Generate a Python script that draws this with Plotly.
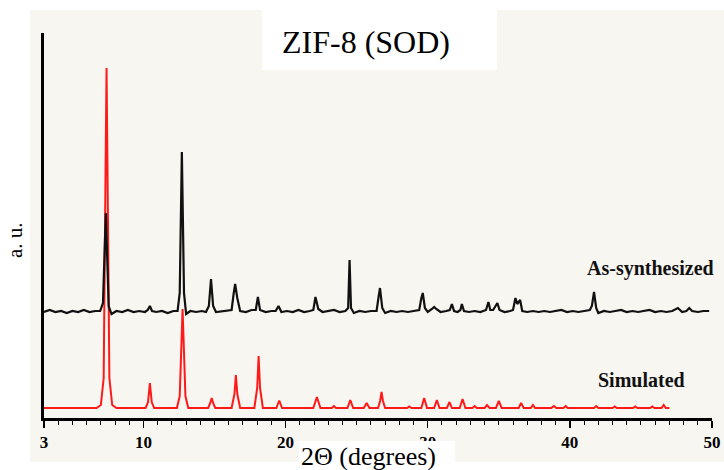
import plotly.graph_objects as go

# ---- data (y in arbitrary units) ----
asyn_x = [3.0, 3.4, 3.8, 4.2, 4.6, 5.0, 5.4, 5.8, 6.2, 6.6, 6.95, 7.15, 7.35, 7.55, 7.75,
          8.1, 8.5, 8.9, 9.3, 9.7, 10.1, 10.3, 10.45, 10.6, 10.9, 11.3, 11.7, 12.1, 12.4,
          12.55, 12.7, 12.85, 13.0, 13.3, 13.7, 14.1, 14.4, 14.6, 14.75, 14.9, 15.1, 15.5,
          15.9, 16.2, 16.35, 16.45, 16.6, 16.8, 17.2, 17.6, 17.9, 18.05, 18.2, 18.6, 19.0,
          19.3, 19.5, 19.7, 20.1, 20.5, 20.9, 21.3, 21.7, 21.95, 22.1, 22.3, 22.6, 23.0,
          23.4, 23.8, 24.2, 24.4, 24.5, 24.6, 24.8, 25.2, 25.6, 26.0, 26.4, 26.55, 26.64,
          26.8, 27.0, 27.4, 27.8, 28.2, 28.6, 29.0, 29.4, 29.55, 29.65, 29.8, 30.0, 30.3,
          30.45, 30.6, 30.9, 31.3, 31.55, 31.7, 31.85, 32.1, 32.3, 32.4, 32.55, 32.9, 33.3,
          33.7, 34.1, 34.27, 34.4, 34.6, 34.9, 35.05, 35.4, 35.8, 36.0, 36.17, 36.3, 36.5,
          36.65, 37.0, 37.4, 37.8, 38.2, 38.6, 39.0, 39.4, 39.8, 40.2, 40.6, 41.0, 41.4,
          41.55, 41.7, 41.85, 42.0, 42.4, 42.8, 43.2, 43.6, 44.0, 44.4, 44.8, 45.2, 45.6,
          46.0, 46.4, 46.8, 47.2, 47.6, 47.9, 48.2, 48.4, 48.6, 49.0, 49.4, 49.8]
asyn_y = [106, 108, 106, 107, 105, 107, 106, 108, 106, 107, 107, 115, 205, 112, 104,
          107, 106, 108, 106, 107, 106, 108, 112, 107, 106, 107, 105, 107, 107,
          125, 266, 125, 104, 107, 106, 107, 106, 112, 139, 112, 106, 107,
          108, 108, 125, 134, 120, 107, 106, 108, 108, 121, 108, 106, 107,
          107, 112, 106, 107, 106, 108, 106, 107, 108, 121, 109, 106, 107,
          108, 106, 107, 110, 158, 110, 105, 107, 106, 107, 107, 122, 130,
          110, 105, 107, 106, 107, 106, 107, 108, 120, 125, 110, 106, 109,
          111, 109, 106, 107, 108, 114, 107, 106, 108, 114, 107, 106, 107,
          106, 108, 116, 108, 108, 115, 108, 106, 107, 108, 120, 114, 118,
          107, 106, 107, 106, 107, 106, 107, 108, 106, 107, 106, 107, 108,
          112, 126, 110, 105, 107, 106, 107, 108, 106, 107, 106, 107, 108,
          106, 107, 106, 107, 110, 106, 107, 110, 107, 106, 107, 107]

sim_x = [3.0, 6.7, 7.0, 7.2, 7.3, 7.4, 7.5, 7.6, 7.8, 8.1,
         10.15, 10.32, 10.45, 10.58, 10.75,
         12.35, 12.55, 12.66, 12.75, 12.84, 12.95, 13.15,
         14.55, 14.7, 14.8, 14.9, 15.05,
         16.2, 16.4, 16.5, 16.6, 16.8,
         17.8, 18.0, 18.1, 18.2, 18.4,
         19.35, 19.55, 19.75,
         21.95, 22.2, 22.45,
         23.25, 23.4, 23.55,
         24.35, 24.55, 24.75,
         25.5, 25.7, 25.9,
         26.5, 26.65, 26.75, 26.85, 27.0,
         28.55, 28.7, 28.85,
         29.55, 29.75, 29.95,
         30.45, 30.64, 30.83,
         31.35, 31.53, 31.7,
         32.25, 32.45, 32.65,
         33.15, 33.3, 33.45,
         34.0, 34.17, 34.35,
         34.8, 35.0, 35.2,
         36.4, 36.57, 36.75,
         37.25, 37.4, 37.55,
         38.7, 38.87, 39.05,
         39.55, 39.7, 39.85,
         41.7, 41.86, 42.0,
         43.0, 43.16, 43.3,
         44.45, 44.6, 44.75,
         45.65, 45.8, 45.95,
         46.45, 46.6, 46.75, 47.0]
sim_y = [10, 10, 13, 40, 200, 350, 200, 40, 13, 10,
         10, 16, 35, 16, 10,
         10, 22, 70, 109, 70, 22, 10,
         10, 15, 20, 15, 10,
         10, 24, 43, 24, 10,
         10, 30, 62, 30, 10,
         10, 17.5, 10,
         10, 21, 10,
         10, 12, 10,
         10, 18, 10,
         10, 15, 10,
         10, 17, 26, 17, 10,
         10, 11.5, 10,
         10, 20, 10,
         10, 18, 10,
         10, 16, 10,
         10, 19, 10,
         10, 12, 10,
         10, 13, 10,
         10, 17, 10,
         10, 15, 10,
         10, 13, 10,
         10, 12, 10,
         10, 12, 10,
         10, 12, 10,
         10, 11.5, 10,
         10, 11.5, 10,
         10, 11.5, 10,
         10, 13, 10, 10]

tick_vals = [3, 10, 20, 30, 40, 50]
tick_text = ["3", "10", "20", "30", "40", "50"]

# ---- layout geometry (pixels) ----
W, H = 724, 470
L, R, T, B = 44, 712, 33, 418
BG = "#f7f6f1"
SERIF = "Liberation Serif"


def px(x):
    return (x - L) / (R - L)


def py(y):
    return (B - y) / (B - T)


fig = go.Figure()
fig.add_trace(go.Scatter(x=sim_x, y=sim_y, mode="lines",
                         line=dict(color="#ff1a1a", width=2), hoverinfo="skip"))
fig.add_trace(go.Scatter(x=asyn_x, y=asyn_y, mode="lines",
                         line=dict(color="#111111", width=2.2), hoverinfo="skip"))

shapes = [
    dict(type="rect", xref="paper", yref="paper", layer="below",
         x0=px(30), x1=px(724), y0=py(462), y1=py(10),
         fillcolor=BG, line=dict(width=0)),
    dict(type="rect", xref="paper", yref="paper", layer="below",
         x0=px(262), x1=px(497), y0=py(70), y1=py(0),
         fillcolor="white", line=dict(width=0)),
    dict(type="rect", xref="paper", yref="paper", layer="above",
         x0=px(299), x1=px(455), y0=py(470), y1=py(441),
         fillcolor="white", line=dict(width=0)),
]

annotations = [
    dict(text="ZIF-8 (SOD)", x=px(366), y=py(42), xref="paper", yref="paper",
         showarrow=False, xanchor="center", yanchor="middle",
         font=dict(family=SERIF, size=32, color="black")),
    dict(text="2Θ (degrees)", x=px(368), y=py(457), xref="paper", yref="paper",
         showarrow=False, xanchor="center", yanchor="middle",
         font=dict(family=SERIF, size=26, color="black")),
    dict(text="a. u.", x=px(15), y=py(240), xref="paper", yref="paper",
         showarrow=False, xanchor="center", yanchor="middle", textangle=-90,
         font=dict(family=SERIF, size=21, color="black")),
    dict(text="<b>As-synthesized</b>", x=px(716), y=py(268), xref="paper", yref="paper",
         showarrow=False, xanchor="right", yanchor="middle",
         font=dict(family=SERIF, size=20, color="#111111")),
    dict(text="<b>Simulated</b>", x=px(641), y=py(380), xref="paper", yref="paper",
         showarrow=False, xanchor="center", yanchor="middle",
         font=dict(family=SERIF, size=20, color="#111111")),
]

fig.update_layout(
    width=W, height=H,
    margin=dict(l=L, r=W - R, t=T, b=H - B, pad=0, autoexpand=False),
    paper_bgcolor="white", plot_bgcolor="rgba(0,0,0,0)",
    showlegend=False,
    shapes=shapes, annotations=annotations,
    xaxis=dict(range=[3, 50], showgrid=False, zeroline=False, automargin=False,
               showline=True, linecolor="black", linewidth=3,
               tickmode="array", tickvals=tick_vals, ticktext=tick_text,
               ticks="outside", ticklen=7, tickwidth=1.5, tickcolor="black",
               minor=dict(tickmode="linear", tick0=3, dtick=1, ticks="outside",
                          ticklen=4, tickwidth=1, tickcolor="black"),
               tickfont=dict(family=SERIF, size=17, color="black", weight="bold")),
    yaxis=dict(range=[0, 385], showgrid=False, zeroline=False, automargin=False,
               showline=True, linecolor="black", linewidth=3,
               showticklabels=False, ticks=""),
)

css = ("margin:0;padding:0;overflow:hidden;width:724px;height:470px;")
fig.write_html(
    "out.html",
    config={"displayModeBar": False, "staticPlot": True},
    post_script=("document.documentElement.style.cssText='" + css + "';"
                 "document.body.style.cssText='" + css + "';"),
)
